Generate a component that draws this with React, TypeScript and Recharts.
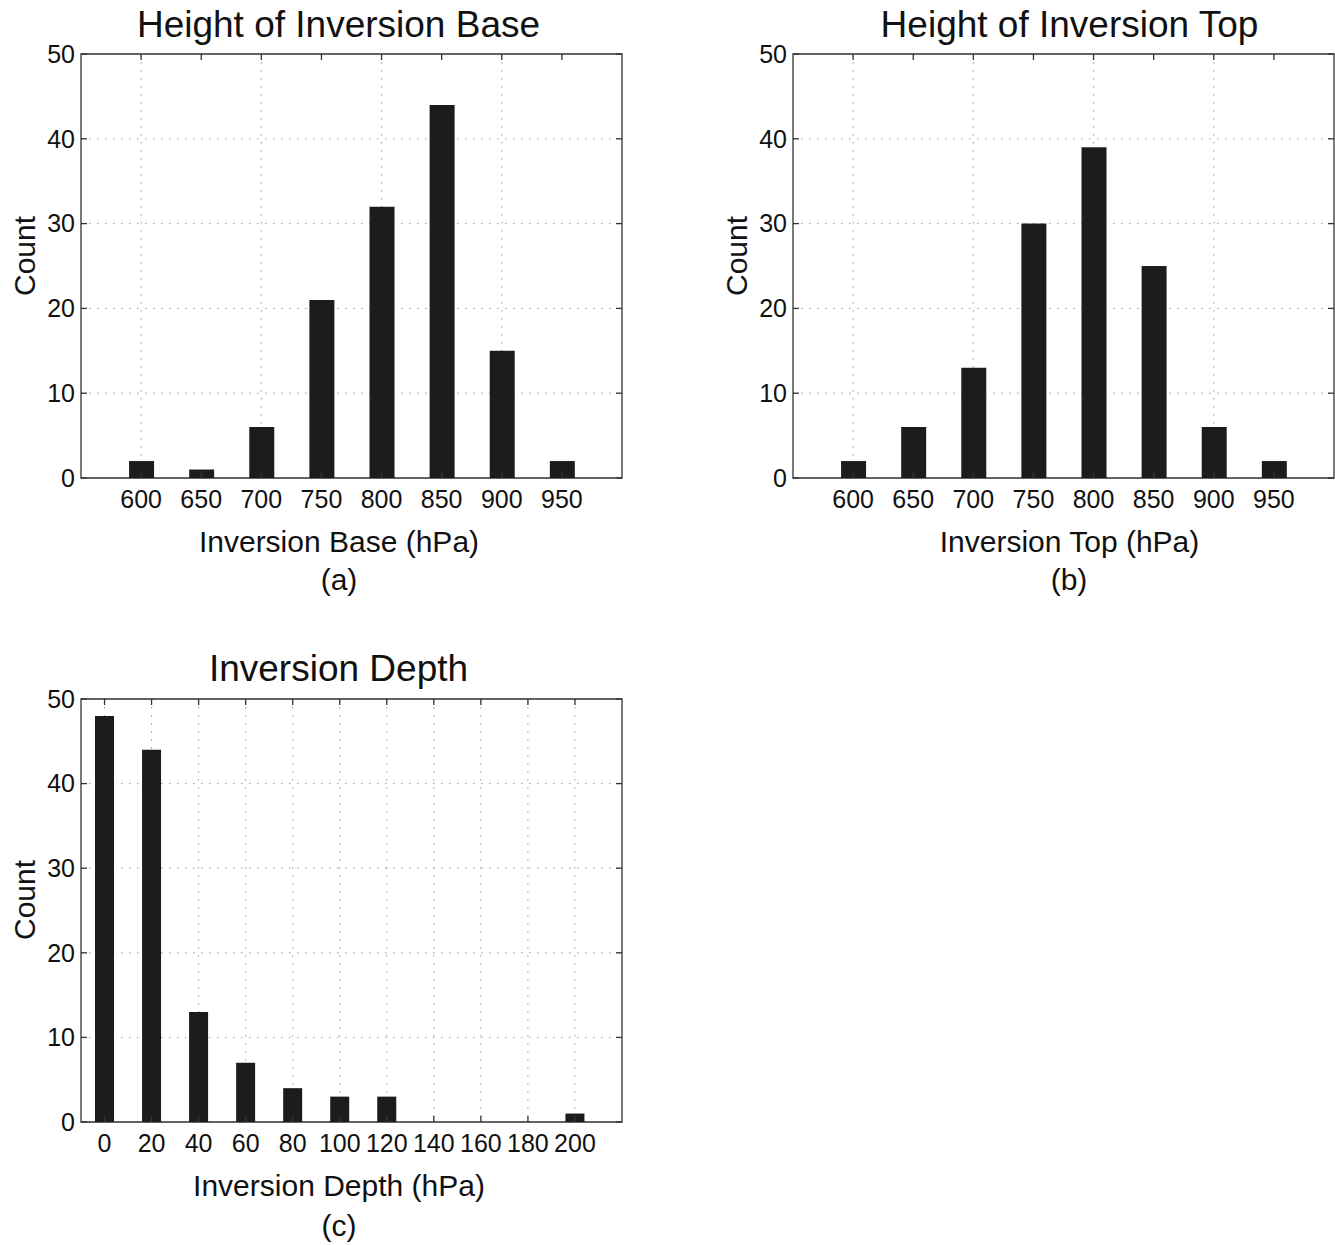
import React from 'react';
import { BarChart, Bar, XAxis, YAxis, CartesianGrid, ReferenceArea } from 'recharts';

const baseCategories = [600, 650, 700, 750, 800, 850, 900, 950];
const baseCounts = [2, 1, 6, 21, 32, 44, 15, 2];
const topCategories = [600, 650, 700, 750, 800, 850, 900, 950];
const topCounts = [2, 6, 13, 30, 39, 25, 6, 2];
const depthCategories = [0, 20, 40, 60, 80, 100, 120, 140, 160, 180, 200];
const depthCounts = [48, 44, 13, 7, 4, 3, 3, 0, 0, 0, 1];

const pressureTicks = [600, 650, 700, 750, 800, 850, 900, 950];
const pressureGrid = [600, 700, 800, 900];
const pressureDomain = [550, 1000];
const depthTicks = [0, 20, 40, 60, 80, 100, 120, 140, 160, 180, 200];
const depthGrid = [0, 20, 40, 60, 80, 100, 120, 140, 160, 180, 200];
const depthDomain = [-10, 220];
const countTicks = [0, 10, 20, 30, 40, 50];
const countDomain = [0, 50];

const toRows = (xs: number[], ys: number[]) => xs.map((x, i) => ({ x, count: ys[i] }));

const FONT = '"Liberation Sans", Arial, Helvetica, sans-serif';
const AXIS = '#333333';
const TEXT = '#111111';
const TICK_LEN = 6;

type PanelProps = {
  left: number;
  top: number;
  plotHeight: number;
  data: { x: number; count: number }[];
  domain: number[];
  xTicks: number[];
  gridX: number[];
  barSize: number;
};

function Panel({ left, top, plotHeight, data, domain, xTicks, gridX, barSize }: PanelProps) {
  const ML = 21, YW = 60, PW = 541, MT = 54, MR = 4, XH = 30, MB = 40;
  const width = ML + YW + PW + MR;
  const height = MT + plotHeight + XH + MB;
  const plotLeft = ML + YW;
  const plotRight = plotLeft + PW;
  const plotTop = MT;
  const plotBottom = MT + plotHeight;

  const renderXTick = (props: any) => {
    const x = props.x;
    return (
      <g>
        <line x1={x} x2={x} y1={plotBottom} y2={plotBottom - TICK_LEN} stroke={AXIS} strokeWidth={1.3} />
        <line x1={x} x2={x} y1={plotTop} y2={plotTop + TICK_LEN} stroke={AXIS} strokeWidth={1.3} />
        <text x={x} y={plotBottom + 12} dy="0.71em" textAnchor="middle" fontSize={25} fill={TEXT}>
          {props.payload.value}
        </text>
      </g>
    );
  };

  const renderYTick = (props: any) => {
    const y = props.y;
    return (
      <g>
        <line x1={plotLeft} x2={plotLeft + TICK_LEN} y1={y} y2={y} stroke={AXIS} strokeWidth={1.3} />
        <line x1={plotRight} x2={plotRight - TICK_LEN} y1={y} y2={y} stroke={AXIS} strokeWidth={1.3} />
        <text x={plotLeft - 6} y={y} dy="0.355em" textAnchor="end" fontSize={25} fill={TEXT}>
          {props.payload.value}
        </text>
      </g>
    );
  };

  return (
    <div style={{ position: 'absolute', left: left - ML - YW, top: top - MT }}>
      <BarChart
        width={width}
        height={height}
        data={data}
        margin={{ top: MT, left: ML, right: MR, bottom: MB }}
      >
        <CartesianGrid
          stroke="#9a9a9a"
          strokeWidth={1}
          strokeDasharray="1.5 6.5"
          verticalValues={gridX}
          horizontalValues={countTicks}
        />
        <XAxis
          dataKey="x"
          type="number"
          domain={domain}
          ticks={xTicks}
          interval={0}
          allowDataOverflow
          height={XH}
          axisLine={false}
          tickLine={false}
          tick={renderXTick}
        />
        <YAxis
          type="number"
          domain={countDomain}
          ticks={countTicks}
          interval={0}
          allowDataOverflow
          width={YW}
          axisLine={false}
          tickLine={false}
          tick={renderYTick}
        />
        <Bar
          dataKey="count"
          fill="#1c1c1c"
          barSize={barSize}
          isAnimationActive={false}
        />
        <ReferenceArea
          x1={domain[0]}
          x2={domain[1]}
          y1={countDomain[0]}
          y2={countDomain[1]}
          fill="none"
          fillOpacity={0}
          stroke={AXIS}
          strokeWidth={1.3}
          ifOverflow="visible"
        />
      </BarChart>
    </div>
  );
}

export default function App() {
  return (
    <div
      style={{
        position: 'absolute',
        left: 0,
        top: 0,
        width: 1335,
        height: 1245,
        background: '#ffffff',
        overflow: 'hidden',
        fontFamily: FONT,
      }}
    >
      <Panel left={81} top={54} plotHeight={424} data={toRows(baseCategories, baseCounts)} domain={pressureDomain} xTicks={pressureTicks} gridX={pressureGrid} barSize={25} />
      <Panel left={793} top={54} plotHeight={424} data={toRows(topCategories, topCounts)} domain={pressureDomain} xTicks={pressureTicks} gridX={pressureGrid} barSize={25} />
      <Panel left={81} top={699} plotHeight={423} data={toRows(depthCategories, depthCounts)} domain={depthDomain} xTicks={depthTicks} gridX={depthGrid} barSize={19} />
      <svg
        width={1335}
        height={1245}
        style={{ position: 'absolute', left: 0, top: 0, pointerEvents: 'none' }}
        fontFamily={FONT}
        fill={TEXT}
      >
        <text x={338.5} y={37} fontSize={37} textAnchor="middle">Height of Inversion Base</text>
        <text x={1069.5} y={37} fontSize={37} textAnchor="middle">Height of Inversion Top</text>
        <text x={338.5} y={681} fontSize={37} textAnchor="middle">Inversion Depth</text>

        <text x={339} y={552} fontSize={30} textAnchor="middle">Inversion Base (hPa)</text>
        <text x={1069.5} y={552} fontSize={30} textAnchor="middle">Inversion Top (hPa)</text>
        <text x={339} y={1196} fontSize={30} textAnchor="middle">Inversion Depth (hPa)</text>

        <text x={339} y={590} fontSize={30} textAnchor="middle">(a)</text>
        <text x={1069} y={590} fontSize={30} textAnchor="middle">(b)</text>
        <text x={339} y={1236} fontSize={30} textAnchor="middle">(c)</text>

        <text transform="translate(35,256) rotate(-90)" fontSize={30} textAnchor="middle">Count</text>
        <text transform="translate(747,256) rotate(-90)" fontSize={30} textAnchor="middle">Count</text>
        <text transform="translate(35,900) rotate(-90)" fontSize={30} textAnchor="middle">Count</text>
      </svg>
    </div>
  );
}
